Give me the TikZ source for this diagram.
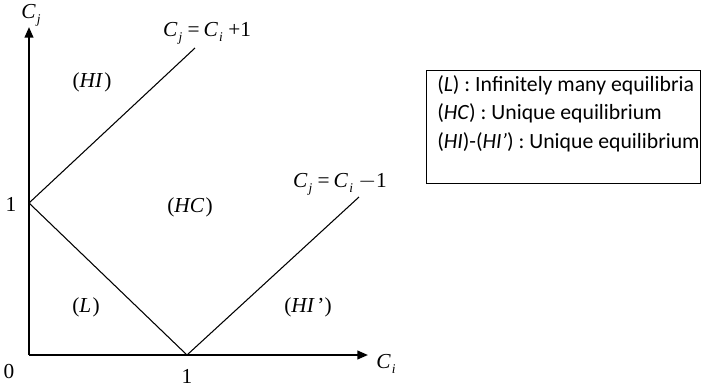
\documentclass[tikz,border=0pt]{standalone}
\usepackage{fontspec}
\setmainfont{Liberation Serif}
\newfontfamily\legfont{Carlito}
\usetikzlibrary{arrows.meta}
\newcommand{\Cv}[1]{{\itshape C}\kern1pt\raisebox{-0.5ex}{\fontsize{10}{10}\selectfont\itshape #1}}
\begin{document}
\begin{tikzpicture}[x=0.75pt,y=-0.75pt,
  axis/.style={line width=1.5pt,-{Triangle[length=8pt,width=6.5pt]}},
  bound/.style={line width=0.8pt},
  lbl/.style={font=\fontsize{16}{18}\selectfont, inner sep=0pt},
  leg/.style={font=\legfont\fontsize{16.3}{18}\selectfont, anchor=west, inner sep=0pt}]
\useasboundingbox (0,0) rectangle (701,387);
\coordinate (O) at (29,355);
\coordinate (A) at (29,203);
\coordinate (B) at (187,355);
\coordinate (Ytip) at (29,27);
\coordinate (Xtip) at (368,355);
\coordinate (P1) at (195,48);
\coordinate (P2) at (359,197);
\draw[axis] (O) -- (Ytip);
\draw[axis] (O) -- (Xtip);
\draw[bound] (A) -- (P1);
\draw[bound] (A) -- (B);
\draw[bound] (B) -- (P2);
\node[lbl] (cj) at (31,15) {\Cv{j}};
\node[lbl] (ci) at (386,364) {\Cv{i}};
\node[lbl] (zero) at (9,372) {0};
\node[lbl] (one1) at (187,376) {1};
\node[lbl] (oneA) at (11,204) {1};
\node[lbl] (eq1) at (207,33) {\Cv{j}\kern4pt=\kern3pt\Cv{i}\kern4pt+1};
\node[lbl] (eq2) at (340,184) {\Cv{j}\kern4pt=\kern3pt\Cv{i}\kern4pt$-$1};
\node[lbl] (hi) at (92,82) {(\textit{HI}\kern1pt)};
\node[lbl] (hc) at (190,207) {(\textit{HC}\kern1pt)};
\node[lbl] (l) at (86,307) {(\textit{L}\kern1pt)};
\node[lbl] (hip) at (308,307) {(\textit{HI}\kern2pt')};
\node[draw, line width=0.6pt, anchor=north west, minimum width=274*0.75pt, minimum height=113*0.75pt, inner sep=0pt] (legend) at (426,70) {};
\node[leg] (l1) at (437,85) {(\textit{L}) : Infinitely many equilibria};
\node[leg] (l2) at (437,113) {(\textit{HC}) : Unique equilibrium};
\node[leg] (l3) at (437,142) {(\textit{HI})-(\textit{HI’}) : Unique equilibrium};
\end{tikzpicture}
\end{document}
